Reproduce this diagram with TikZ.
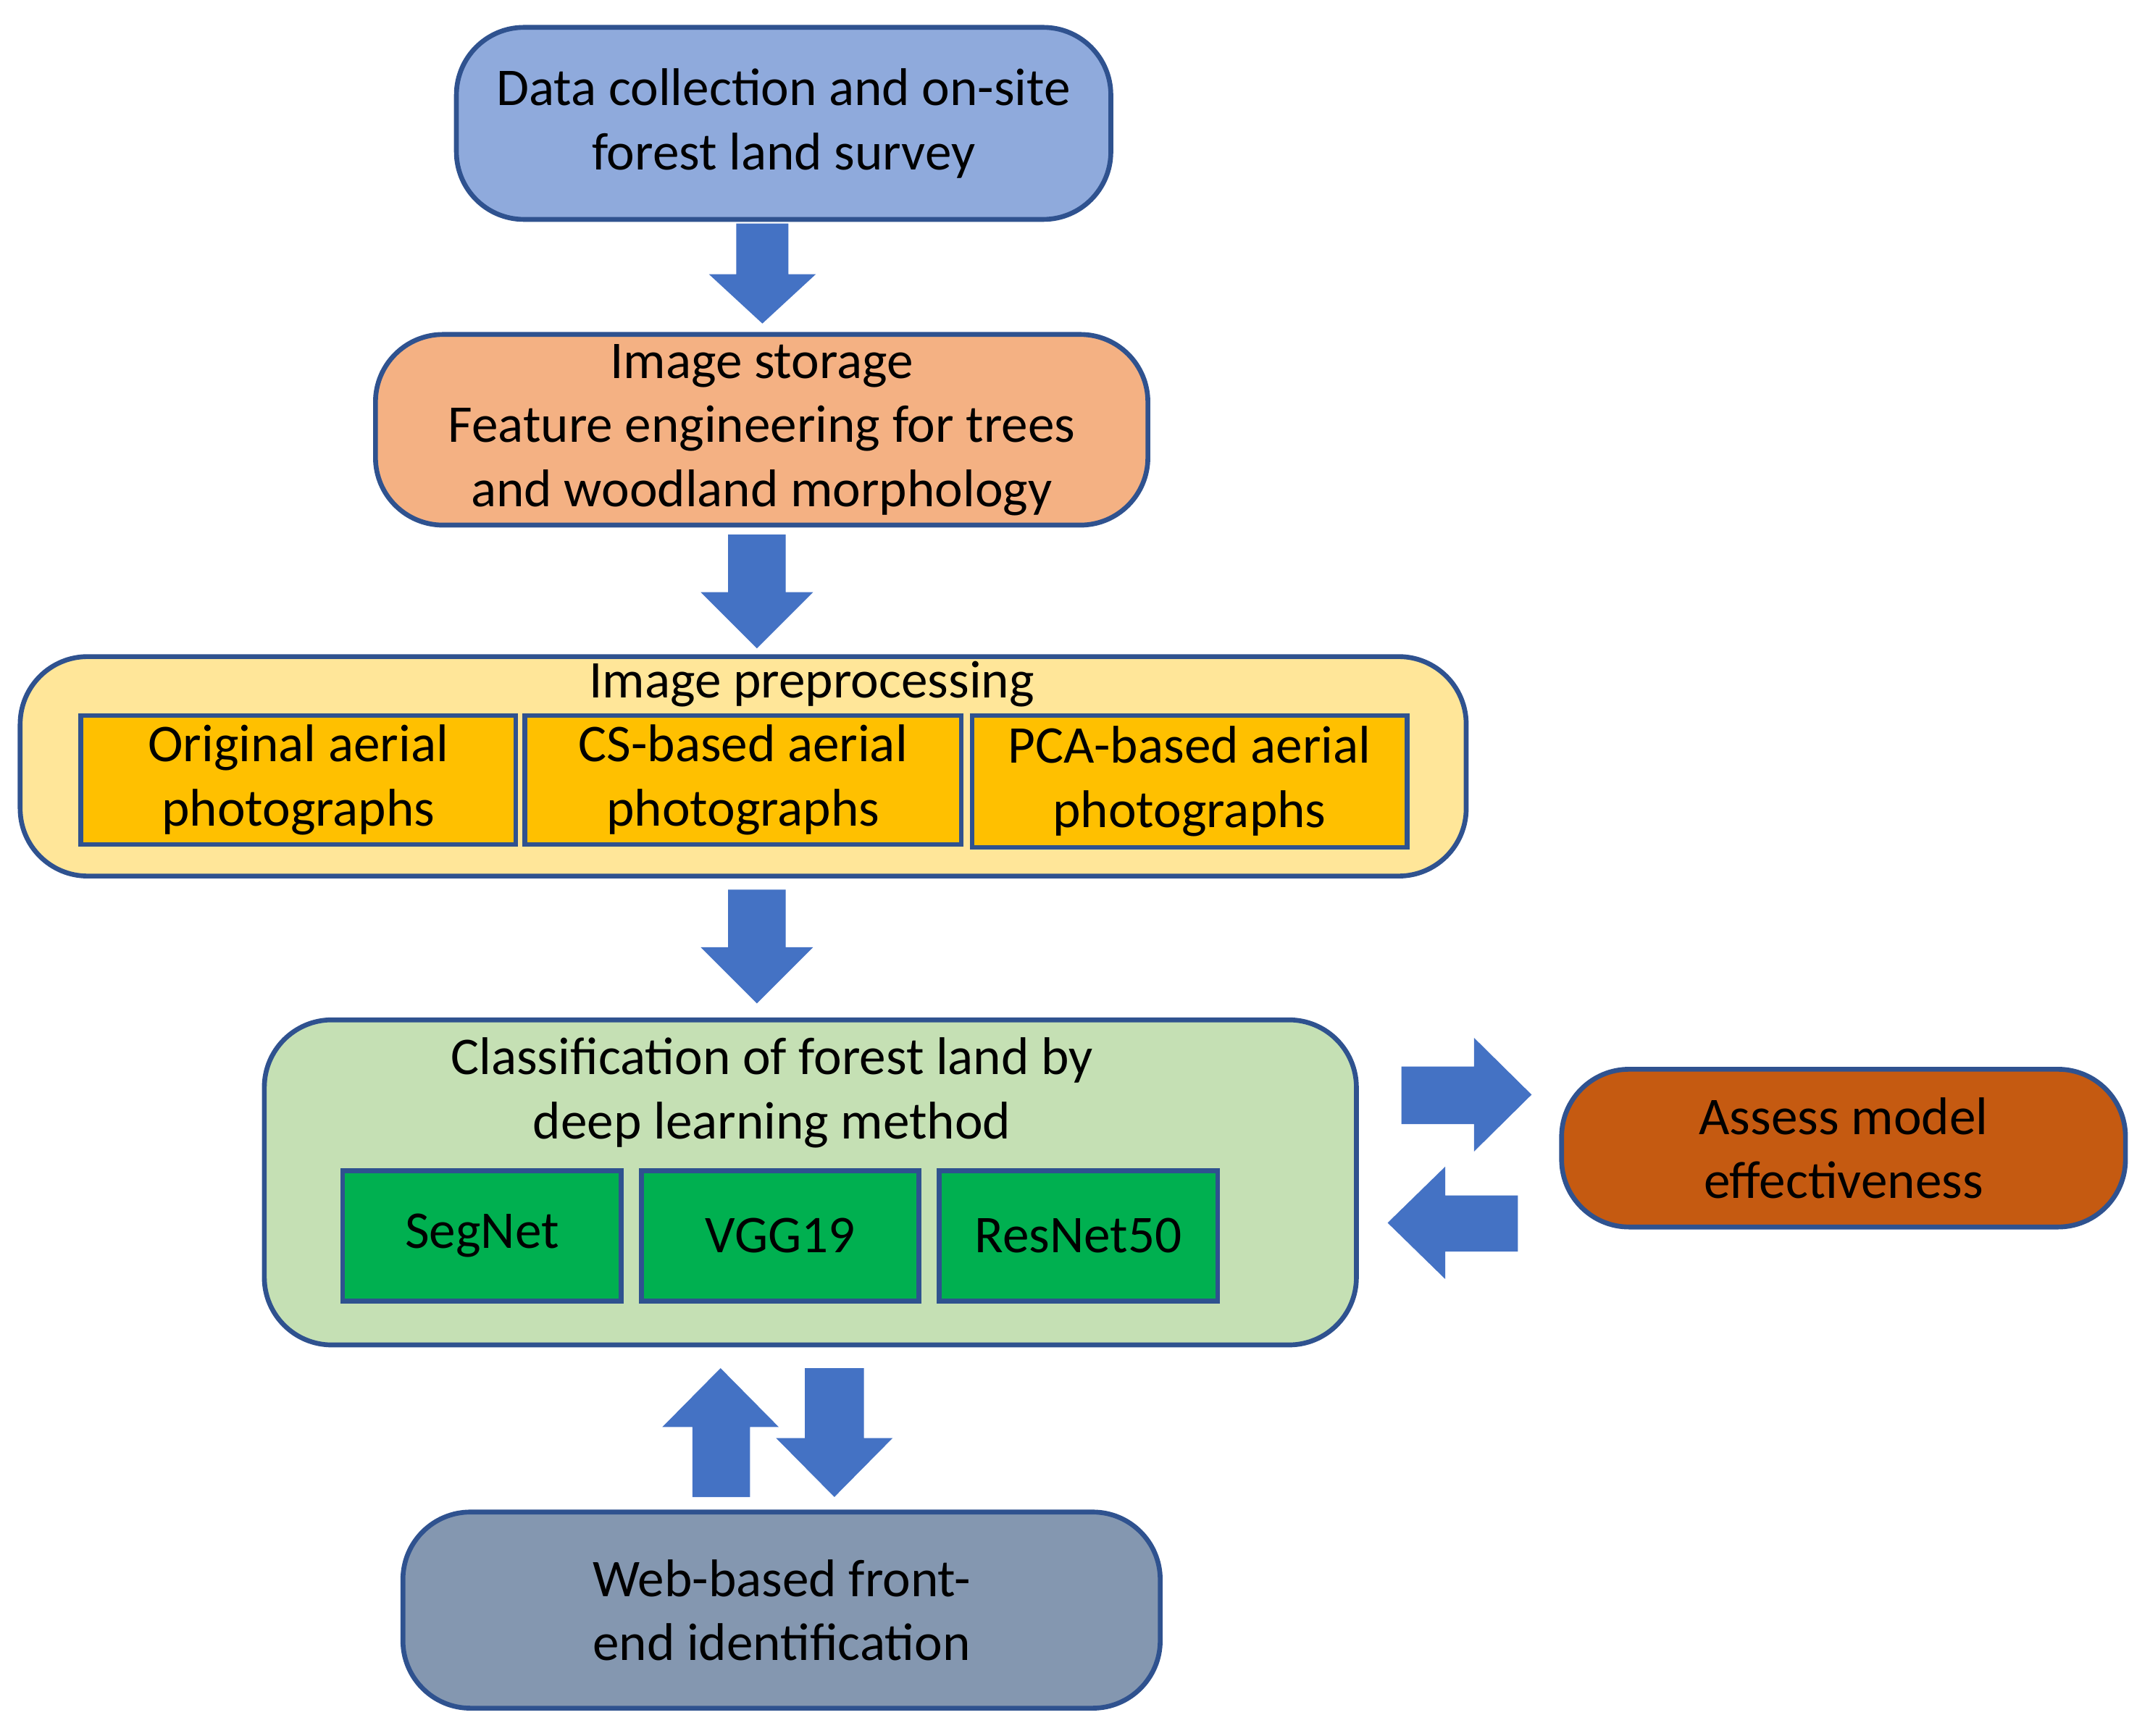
\documentclass[tikz,border=0pt]{standalone}
\usepackage{fontspec}
\setmainfont{Carlito}
\definecolor{edgeblue}{HTML}{2F528F}
\definecolor{arrowblue}{HTML}{4472C4}
\definecolor{topblue}{HTML}{8FAADC}
\definecolor{storeorange}{HTML}{F4B183}
\definecolor{prelight}{HTML}{FFE699}
\definecolor{pregold}{HTML}{FFC000}
\definecolor{classgreen}{HTML}{C5E0B4}
\definecolor{netgreen}{HTML}{00B050}
\definecolor{assessbrown}{HTML}{C55A11}
\definecolor{webgrey}{HTML}{8497B0}
\tikzset{
  txt/.style={font=\fontsize{11}{13.3}\selectfont, align=center, inner sep=0pt},
  box/.style={txt, draw=edgeblue, line width=1pt, rounded corners=14pt},
  sub/.style={txt, draw=edgeblue, line width=1pt},
  blockarrow/.style={fill=arrowblue, draw=none}
}
\begin{document}
\begin{tikzpicture}[x=0.01cm,y=-0.01cm]
  \useasboundingbox (0,0) rectangle (1568,1266);

  % boxes
  \node[box, fill=topblue, minimum width=4.77cm, minimum height=1.40cm] (collect) at (571.5,90) {Data collection and on-site\\forest land survey};
  \node[box, fill=storeorange, minimum width=5.63cm, minimum height=1.39cm] (storage) at (555.5,313.5) {Image storage\\Feature engineering for trees\\and woodland morphology};

  \node[box, fill=prelight, minimum width=10.54cm, minimum height=1.60cm] (prep) at (542,559) {};
  \node[txt] (preptitle) at (592,499) {Image preprocessing};
  \node[sub, fill=pregold, minimum width=3.17cm, minimum height=0.94cm] (orig) at (217.5,569) {Original aerial\\photographs};
  \node[sub, fill=pregold, minimum width=3.18cm, minimum height=0.94cm] (cs) at (542,569) {CS-based aerial\\photographs};
  \node[sub, fill=pregold, minimum width=3.17cm, minimum height=0.96cm] (pca) at (867.5,570) {PCA-based aerial\\photographs};

  \node[box, fill=classgreen, minimum width=7.96cm, minimum height=2.37cm] (classify) at (591,862.5) {};
  \node[txt] (classtitle) at (563,797) {Classification of forest land by\\deep learning method};
  \node[sub, fill=netgreen, minimum width=2.03cm, minimum height=0.95cm] (segnet) at (351.5,901.5) {SegNet};
  \node[sub, fill=netgreen, minimum width=2.02cm, minimum height=0.95cm] (vgg) at (569,901.5) {VGG19};
  \node[sub, fill=netgreen, minimum width=2.03cm, minimum height=0.95cm] (resnet) at (786.5,901.5) {ResNet50};

  \node[box, fill=assessbrown, minimum width=4.11cm, minimum height=1.15cm] (assess) at (1344.5,837.5) {Assess model\\effectiveness};
  \node[box, fill=webgrey, minimum width=5.52cm, minimum height=1.43cm] (web) at (570,1174.5) {Web-based front-\\end identification};

  % block arrows
  \fill[blockarrow] (537,163) -- (575,163) -- (575,200) -- (595,200) -- (556,236) -- (517,200) -- (537,200) -- cycle;
  \fill[blockarrow] (531,390) -- (573,390) -- (573,432) -- (593,432) -- (552,473) -- (511,432) -- (531,432) -- cycle;
  \fill[blockarrow] (531,649) -- (573,649) -- (573,691) -- (593,691) -- (552,732) -- (511,691) -- (531,691) -- cycle;
  \fill[blockarrow] (1022,778) -- (1075,778) -- (1075,757) -- (1117,798.5) -- (1075,840) -- (1075,820) -- (1022,820) -- cycle;
  \fill[blockarrow] (1107,872) -- (1054,872) -- (1054,851) -- (1012,892) -- (1054,933) -- (1054,913) -- (1107,913) -- cycle;
  \fill[blockarrow] (505,1092) -- (547,1092) -- (547,1041) -- (568,1041) -- (525.5,998) -- (483,1041) -- (505,1041) -- cycle;
  \fill[blockarrow] (587,998) -- (630,998) -- (630,1049) -- (651,1049) -- (608.5,1092) -- (566,1049) -- (587,1049) -- cycle;
\end{tikzpicture}
\end{document}
